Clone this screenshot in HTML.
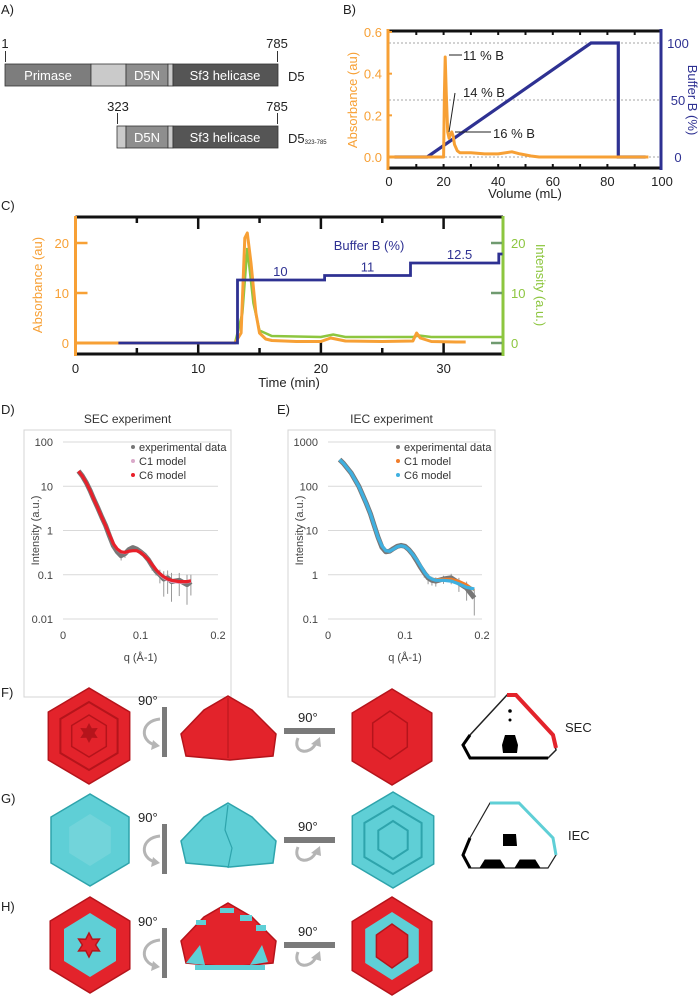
<!DOCTYPE html>
<html><head><meta charset="utf-8">
<style>
html,body{margin:0;padding:0;background:#fff;}
svg{display:block;font-family:"Liberation Sans",Arial,sans-serif;}
</style></head>
<body>
<svg id="fig" width="700" height="997" viewBox="0 0 700 997" xmlns="http://www.w3.org/2000/svg">
<!-- ===== Panel A ===== -->
<g>
  <text x="1" y="14" font-size="13" fill="#222">A)</text>
  <line x1="5.5" y1="51" x2="5.5" y2="62" stroke="#333" stroke-width="1"/>
  <text x="5" y="48" font-size="13" text-anchor="middle" fill="#222">1</text>
  <line x1="277.5" y1="51" x2="277.5" y2="62" stroke="#333"/>
  <text x="277" y="48" font-size="13" text-anchor="middle" fill="#222">785</text>
  <g stroke="#333" stroke-width="0.8">
    <rect x="5" y="64" width="86" height="22" fill="#7d7d7d"/>
    <rect x="91" y="64" width="35" height="22" fill="#cacaca"/>
    <rect x="126" y="64" width="42" height="22" fill="#8e8e8e"/>
    <rect x="168" y="64" width="5" height="22" fill="#cacaca"/>
    <rect x="173" y="64" width="105" height="22" fill="#555"/>
  </g>
  <text x="48" y="80" font-size="13" text-anchor="middle" fill="#fff">Primase</text>
  <text x="147" y="80" font-size="13" text-anchor="middle" fill="#fff">D5N</text>
  <text x="225" y="80" font-size="13" text-anchor="middle" fill="#fff">Sf3 helicase</text>
  <text x="288" y="81" font-size="13" fill="#222">D5</text>

  <line x1="117.5" y1="113" x2="117.5" y2="124" stroke="#333"/>
  <text x="118" y="111" font-size="13" text-anchor="middle" fill="#222">323</text>
  <line x1="277.5" y1="113" x2="277.5" y2="124" stroke="#333"/>
  <text x="277" y="111" font-size="13" text-anchor="middle" fill="#222">785</text>
  <g stroke="#333" stroke-width="0.8">
    <rect x="117" y="126" width="9" height="22" fill="#cacaca"/>
    <rect x="126" y="126" width="42" height="22" fill="#8e8e8e"/>
    <rect x="168" y="126" width="5" height="22" fill="#cacaca"/>
    <rect x="173" y="126" width="105" height="22" fill="#555"/>
  </g>
  <text x="147" y="142" font-size="13" text-anchor="middle" fill="#fff">D5N</text>
  <text x="225" y="142" font-size="13" text-anchor="middle" fill="#fff">Sf3 helicase</text>
  <text x="288" y="143" font-size="13" fill="#222">D5<tspan font-size="6" dy="1">323-785</tspan></text>
</g>

<!-- ===== Panel B ===== -->
<g id="panelB">
  <text x="343" y="14" font-size="13" fill="#222">B)</text>
</g>
<!-- ===== Panel C ===== -->
<g id="panelC">
  <text x="1" y="210" font-size="13" fill="#222">C)</text>
</g>
<!-- ===== Panel D / E ===== -->
<g id="panelD">
  <text x="1" y="414" font-size="13" fill="#222">D)</text>
</g>
<g id="panelE">
  <text x="277" y="414" font-size="13" fill="#222">E)</text>
</g>

<!-- ===== Panels F-H ===== -->
<g id="panelFGH">
  <text x="1" y="697" font-size="13" fill="#222">F)</text>
  <text x="1" y="803" font-size="13" fill="#222">G)</text>
  <text x="1" y="911" font-size="13" fill="#222">H)</text>
  <text x="565" y="732" font-size="13" fill="#222">SEC</text>
  <text x="568" y="840" font-size="13" fill="#222">IEC</text>
</g>

<script>
const NS='http://www.w3.org/2000/svg';
function mk(parent,tag,attrs,txt){const e=document.createElementNS(NS,tag);for(const k in attrs)e.setAttribute(k,attrs[k]);if(txt!==undefined)e.textContent=txt;parent.appendChild(e);return e;}
function pathFrom(xs,ys,fx,fy){return xs.map((v,i)=>(i?'L':'M')+fx(v).toFixed(1)+','+fy(ys[i]).toFixed(1)).join(' ');}

// ---------- Panel B data ----------
const volB=[0,5,10,15,20,20.3,20.6,21,21.5,22,22.5,23,23.5,24,25,26,30,35,40,45,48,52,55,60,70,80,90,95];
const absB=[0,0,0,0,0,0.3,0.48,0.3,0.12,0.09,0.11,0.12,0.1,0.06,0.03,0.02,0.02,0.015,0.015,0.025,0.015,0.005,0,0,0,0,0,0];
const volBuf=[2,14,74,84,84,94];
const bufB=[0,0,100,100,0,0];
const bXTicks=[0,20,40,60,80,100];
const bLeftTicks=[0,0.2,0.4,0.6];
const bRightTicks=[0,50,100];

(function(){
  const g=document.getElementById('panelB');
  const fx=v=>389+v*2.73, fyA=v=>157-v*208.3, fyB=v=>157-v*1.14;
  const ORANGE='#f7a035', BLUE='#2e3192';
  bRightTicks.forEach(t=>{const l=mk(g,'line',{x1:389,x2:662,y1:fyB(t),y2:fyB(t),stroke:'#888','stroke-width':0.7,'stroke-dasharray':'2,2'});
    
    });
  const ax=mk(g,'path',{d:'M387,31 H662 M387,168 H662',stroke:'#111','stroke-width':3,fill:'none'});
  
  
  [10,20,30,40,50,60,70,80,90].forEach(t=>{mk(g,'line',{x1:fx(t),x2:fx(t),y1:31,y2:35,stroke:'#111','stroke-width':2});mk(g,'line',{x1:fx(t),x2:fx(t),y1:164,y2:168,stroke:'#111','stroke-width':2});});
  const la=mk(g,'line',{x1:388,x2:388,y1:29,y2:170,stroke:ORANGE,'stroke-width':3});
  
  
  const ra=mk(g,'line',{x1:661,x2:661,y1:29,y2:170,stroke:BLUE,'stroke-width':3});
  
  
  bLeftTicks.forEach(t=>{const e=mk(g,'text',{x:382,y:fyA(t)+5,'font-size':13,'text-anchor':'end',fill:ORANGE},t.toFixed(1));
    
    
    mk(g,'line',{x1:388,x2:392,y1:fyA(t),y2:fyA(t),stroke:ORANGE,'stroke-width':2});});
  bRightTicks.forEach(t=>{const e=mk(g,'text',{x:678,y:fyB(t)+5,'font-size':13,'text-anchor':'middle',fill:BLUE},String(t));
    
    });
  bXTicks.forEach(t=>{const e=mk(g,'text',{x:fx(t),y:186,'font-size':13,'text-anchor':'middle',fill:'#222'},String(t));
    
    });
  let e=mk(g,'text',{x:525,y:198,'font-size':13,'text-anchor':'middle',fill:'#222'},'Volume (mL)');
  
  
  e=mk(g,'text',{x:0,y:0,'font-size':13,'text-anchor':'middle',fill:ORANGE,transform:'translate(357,100) rotate(-90)'},'Absorbance (au)');
  
  
  e=mk(g,'text',{x:0,y:0,'font-size':13,'text-anchor':'middle',fill:BLUE,transform:'translate(688,100) rotate(90)'},'Buffer B (%)');
  
  
  e=mk(g,'path',{d:pathFrom(volBuf,bufB,fx,fyB),stroke:BLUE,'stroke-width':3.2,fill:'none'});
  
  
  e=mk(g,'path',{d:pathFrom(volB,absB,fx,fyA),stroke:ORANGE,'stroke-width':3,fill:'none','stroke-linejoin':'round'});
  
  
  mk(g,'path',{d:'M449,55 H462 M455,93 L449,132 M455,132 H491',stroke:'#222','stroke-width':1,fill:'none'});
  [['11 % B',463,60],['14 % B',463,97],['16 % B',493,138]].forEach(a=>{const t=mk(g,'text',{x:a[1],y:a[2],'font-size':13,fill:'#222'},a[0]);
    
    });
})();

// ---------- Panel C data ----------
const tC=[0,3,5,10,13,13.5,13.8,14,14.3,14.7,15,15.5,16,18,20,20.8,21.2,22,25,27.5,27.8,28.1,29,31,31.8];
const absC=[0,0,0,0,0,2,21,22,16,6,2,0.8,0.5,0.3,0.3,1,0.8,0.4,0.3,0.4,2,1,0.3,0.2,0.2];
const tG=[0,5,13,13.6,14,14.5,15,16,20,21,22,27.5,28,29,34.8];
const intG=[0,0,0,6,19,8,2.5,1.4,1.2,1.7,1.2,1.2,1.5,1.2,1.2];
const tBuf=[3.5,13.2,13.2,20.3,20.3,27.3,27.3,34.5,34.5,34.8];
const bufC=[0,0,12.6,12.6,13.5,13.5,16,16,17.8,17.8];
const cXTicks=[0,10,20,30];
const cYTicks=[0,10,20];
const bufLabels=['10','11','12.5'];

(function(){
  const g=document.getElementById('panelC');
  const fx=v=>75.5+v*12.27, fy=v=>343-v*5;
  const X0=75.5, X1=503;
  const ORANGE='#f7a035', GREEN='#8dc63f', BLUE='#2e3192';
  let e=mk(g,'path',{d:`M${X0},217 H${X1} M${X0},354 H${X1}`,stroke:'#111','stroke-width':3,fill:'none'});
  
  
  [5,10,15,20,25,30].forEach(t=>{const L=t%10===0?12:6;mk(g,'line',{x1:fx(t),x2:fx(t),y1:217,y2:217+L,stroke:'#111','stroke-width':2.5});mk(g,'line',{x1:fx(t),x2:fx(t),y1:354-L,y2:354,stroke:'#111','stroke-width':2.5});});
  e=mk(g,'line',{x1:X0,x2:X0,y1:216,y2:356,stroke:ORANGE,'stroke-width':3});
  
  
  e=mk(g,'line',{x1:X1,x2:X1,y1:216,y2:356,stroke:GREEN,'stroke-width':3});
  
  
  cYTicks.forEach(t=>{
    if(t>0)mk(g,'line',{x1:X0,x2:X0+12,y1:fy(t),y2:fy(t),stroke:ORANGE,'stroke-width':2.5});
    mk(g,'line',{x1:X1-12,x2:X1-1,y1:fy(t),y2:fy(t),stroke:'#6f9a6f','stroke-width':2.5});
    let a=mk(g,'text',{x:69,y:fy(t)+5,'font-size':13,'text-anchor':'end',fill:ORANGE},String(t));
    
    
    a=mk(g,'text',{x:511,y:fy(t)+5,'font-size':13,fill:GREEN},String(t));
    
    
  });
  cXTicks.forEach(t=>{const a=mk(g,'text',{x:fx(t),y:373,'font-size':13,'text-anchor':'middle',fill:'#222'},String(t));
    
    });
  e=mk(g,'text',{x:289,y:387,'font-size':13,'text-anchor':'middle',fill:'#222'},'Time (min)');
  
  
  e=mk(g,'text',{x:0,y:0,'font-size':13,'text-anchor':'middle',fill:ORANGE,transform:'translate(42,285) rotate(-90)'},'Absorbance (au)');
  
  
  e=mk(g,'text',{x:0,y:0,'font-size':13,'text-anchor':'middle',fill:GREEN,transform:'translate(536,285) rotate(90)'},'Intensity (a.u.)');
  
  
  e=mk(g,'path',{d:pathFrom(tG,intG,fx,fy),stroke:GREEN,'stroke-width':2.5,fill:'none'});
  
  
  e=mk(g,'path',{d:pathFrom(tC,absC,fx,fy),stroke:ORANGE,'stroke-width':3,fill:'none','stroke-linejoin':'round'});
  
  
  e=mk(g,'path',{d:pathFrom(tBuf,bufC,fx,fy),stroke:BLUE,'stroke-width':2.8,fill:'none'});
  
  
  e=mk(g,'text',{x:369,y:250,'font-size':13,'text-anchor':'middle',fill:BLUE},'Buffer B (%)');
  
  
  [[16.7,bufC[2]],[23.8,bufC[4]],[31.3,bufC[6]]].forEach((p,i)=>{const a=mk(g,'text',{x:fx(p[0]),y:fy(p[1])-4,'font-size':13,'text-anchor':'middle',fill:BLUE},bufLabels[i]);
    
    });
})();

// ---------- Panel D data ----------
const qD=[0.02,0.025,0.03,0.035,0.04,0.045,0.05,0.055,0.06,0.065,0.07,0.075,0.08,0.085,0.09,0.095,0.1,0.105,0.11,0.115,0.12,0.125,0.13,0.135,0.14,0.15,0.16,0.165];
const expD=[22,17,12,8,5,3.2,2,1.3,0.75,0.45,0.33,0.27,0.3,0.37,0.41,0.38,0.33,0.28,0.22,0.16,0.12,0.1,0.08,0.085,0.07,0.075,0.06,0.07];
const c1D=[22,17,12,8,5,3.2,2,1.3,0.8,0.5,0.37,0.32,0.31,0.33,0.35,0.35,0.33,0.28,0.22,0.17,0.13,0.1,0.085,0.076,0.07,0.066,0.068,0.07];
const c6D=[22,17,12,8,5,3.2,2,1.3,0.8,0.5,0.38,0.33,0.32,0.34,0.35,0.35,0.32,0.27,0.22,0.17,0.13,0.105,0.09,0.08,0.075,0.07,0.07,0.073];
const errD=[0,0,0,0,0,0,0,0,0,0,0,0.05,0.05,0.05,0.05,0.04,0.04,0.03,0.03,0.03,0.02,0.03,0.04,0.04,0.04,0.035,0.04,0.03];
const dYTicks=[0.01,0.1,1,10,100];
// ---------- Panel E data ----------
const qE=[0.015,0.02,0.03,0.04,0.05,0.055,0.06,0.065,0.07,0.075,0.08,0.085,0.09,0.095,0.1,0.105,0.11,0.115,0.12,0.125,0.13,0.135,0.14,0.15,0.16,0.17,0.18,0.19];
const expE=[400,330,200,100,40,24,13,7,4.2,3.3,3.4,3.9,4.4,4.6,4.4,3.7,2.9,2.1,1.5,1.1,0.85,0.75,0.72,0.8,0.85,0.65,0.5,0.3];
const c1E=[400,330,200,100,40,24,13,7,4.5,3.5,3.4,3.8,4.3,4.5,4.3,3.7,2.9,2.2,1.6,1.15,0.92,0.82,0.78,0.8,0.8,0.72,0.6,0.45];
const c6E=[400,330,200,100,40,24,13,7,4.5,3.5,3.4,3.8,4.3,4.5,4.3,3.7,2.9,2.2,1.6,1.15,0.9,0.8,0.75,0.75,0.72,0.62,0.52,0.48];
const errE=[0,0,0,0,0,0,0,0,0,0,0,0,0,0,0,0,0,0,0.2,0.2,0.2,0.15,0.15,0.15,0.2,0.2,0.2,0.15];
const eYTicks=[0.1,1,10,100,1000];
const qTicks=[0,0.1,0.2];

function saxsPanel(gid,box,plot,yTicks,q,exp,err,c1,c6,c1col,c6col,title,prefix){
  const g=document.getElementById(gid);
  const lmin=Math.log10(yTicks[0]),lmax=Math.log10(yTicks[yTicks.length-1]);
  const fx=v=>plot.x0+v/0.2*(plot.x1-plot.x0);
  const fy=v=>plot.yb-(Math.log10(v)-lmin)/(lmax-lmin)*(plot.yb-plot.yt);
  let e=mk(g,'rect',{x:box.x,y:box.y,width:box.w,height:box.h,fill:'#fff',stroke:'#d4d4d4','stroke-width':1});
  
  
  e=mk(g,'text',{x:box.x+box.w/2,y:box.y-7,'font-size':12,'text-anchor':'middle',fill:'#333'},title);
  
  
  yTicks.forEach(t=>{
    const l=mk(g,'line',{x1:plot.x0,x2:plot.x1,y1:fy(t),y2:fy(t),stroke:'#d9d9d9','stroke-width':1});
    
    
    const a=mk(g,'text',{x:plot.x0-10,y:fy(t)+4,'font-size':11,'text-anchor':'end',fill:'#444'},String(t));
    
    
  });
  qTicks.forEach(t=>{const a=mk(g,'text',{x:fx(t),y:plot.yb+20,'font-size':11,'text-anchor':'middle',fill:'#444'},String(t));
    
    });
  e=mk(g,'text',{x:(plot.x0+plot.x1)/2,y:plot.yb+42,'font-size':11,'text-anchor':'middle',fill:'#444'},'q (Å-1)');
  
  
  e=mk(g,'text',{x:0,y:0,'font-size':11,'text-anchor':'middle',fill:'#444',transform:`translate(${box.x+15},${(plot.yt+plot.yb)/2}) rotate(-90)`},'Intensity (a.u.)');
  
  
  q.forEach((v,i)=>{if(err[i]>0){const lo=Math.max(exp[i]-err[i]*1.2,exp[i]*0.35);const b=mk(g,'line',{x1:fx(v),x2:fx(v),y1:fy(exp[i]+err[i]),y2:fy(lo),stroke:'#999','stroke-width':1});
    
    }});
  e=mk(g,'path',{d:pathFrom(q,exp,fx,fy),stroke:'#777','stroke-width':5,fill:'none','stroke-linejoin':'round'});
  
  
  e=mk(g,'path',{d:pathFrom(q,c1,fx,fy),stroke:c1col,'stroke-width':2.5,fill:'none'});
  
  
  e=mk(g,'path',{d:pathFrom(q,c6,fx,fy),stroke:c6col,'stroke-width':3.2,fill:'none'});
  
  
  const lx=plot.x0+70, ly=plot.yt+9;
  [['experimental data','#777'],['C1 model',c1col],['C6 model',c6col]].forEach((it,i)=>{
    const c=mk(g,'circle',{cx:lx,cy:ly+i*14-4,r:2,fill:it[1]});
    
    
    const t=mk(g,'text',{x:lx+6,y:ly+i*14,'font-size':11,fill:'#333'},it[0]);
    
    
  });
}
saxsPanel('panelD',{x:24,y:430,w:207,h:267},{x0:63,x1:218,yt:442,yb:619},dYTicks,qD,expD,errD,c1D,c6D,'#d9a9c9','#e8202a','SEC experiment','d');
saxsPanel('panelE',{x:288,y:430,w:207,h:267},{x0:328,x1:482,yt:442,yb:619},eYTicks,qE,expE,errE,c1E,c6E,'#f07c2a','#3fb0e0','IEC experiment','e');

// ---------- Panels F-H (models) ----------
(function(){
  const g=document.getElementById('panelFGH');
  const RED='#e3232b',RED2='#b5141b',CY='#5fcfd6',CY2='#2ea4ac';
  function hex(cx,cy,rx,ry,rot){let p=[];for(let i=0;i<6;i++){const a=(rot||0)+Math.PI/2+i*Math.PI/3;p.push((cx+rx*Math.cos(a)).toFixed(1)+','+(cy-ry*Math.sin(a)).toFixed(1));}return p.join(' ');}
  function star(cx,cy,r){let p=[];for(let i=0;i<12;i++){const a=i*Math.PI/6+Math.PI/2;const rr=i%2?r*0.55:r;p.push((cx+rr*Math.cos(a)).toFixed(1)+','+(cy-rr*Math.sin(a)).toFixed(1));}return p.join(' ');}
  function P(pts,fill,stroke,name,sw){const e=mk(g,'polygon',{points:pts,fill:fill,stroke:stroke||'none','stroke-width':sw||1.5});return e;}
  function rotV(y){
    let e=mk(g,'rect',{x:162,y:y,width:5,height:50,fill:'#7a7a7a'});
    e=mk(g,'path',{d:`M160,${y+12} C140,${y+14} 140,${y+34} 155,${y+38}`,stroke:'#b5b5b5','stroke-width':3,fill:'none'});
    mk(g,'polygon',{points:`${153},${y+33} ${160},${y+39} ${151},${y+43}`,fill:'#b5b5b5'});
    e=mk(g,'text',{x:138,y:y-2,'font-size':13,fill:'#222'},'90°');
  }
  function rotH(y){
    let e=mk(g,'rect',{x:284,y:y-3,width:51,height:6,fill:'#7a7a7a'});
    e=mk(g,'path',{d:`M298,${y+7} C292,${y+22} 310,${y+25} 316,${y+12}`,stroke:'#b5b5b5','stroke-width':3,fill:'none'});
    mk(g,'polygon',{points:`311,${y+13} 320,${y+6} 321,${y+16}`,fill:'#b5b5b5'});
    e=mk(g,'text',{x:298,y:y-9,'font-size':13,fill:'#222'},'90°');
  }
  function dome(y0,fill,dark,name){
    P(`${228},${y0} ${252},${y0+14} ${276},${y0+38} ${273},${y0+60} ${230},${y0+64} ${186},${y0+60} ${181},${y0+38} ${204},${y0+14}`,fill,dark,name);
  }
  P(hex(89,736,47,48),RED,RED2,'sec-model-top-view');
  P(hex(89,736,33,34),'none',RED2,'sec-model-ring',2);
  P(hex(89,736,20,21),'none',RED2,'sec-model-ring',1.5);
  P(star(89,733,10),RED2,'none','sec-model-center-star');
  rotV(707);dome(696,RED,RED2,'sec-model-side-view');
  mk(g,'line',{x1:228,y1:698,x2:228,y2:758,stroke:RED2,'stroke-width':1});
  rotH(731);
  P(hex(392,737,46,48),RED,RED2,'sec-model-bottom-view');
  P(hex(390,735,20,24),'none',RED2,'sec-model-inner-hexagon',1.5);
  P('507,695 516,695 553,735 556,750 548,758 470,758 463,745 470,735',"#fff",'#222','sec-model-cross-section',1.5);
  mk(g,'path',{d:'M507,695 L516,695 L553,735 L556,748',stroke:RED,'stroke-width':4,fill:'none'});
  mk(g,'path',{d:'M470,735 L463,745 L470,758 L548,758',stroke:'#000','stroke-width':3,fill:'none'});
  P('505,735 515,735 518,745 517,753 503,753 502,745',"#000",'none','sec-model-core');
  mk(g,'circle',{cx:510,cy:711,r:1.8,fill:'#000'});mk(g,'circle',{cx:510,cy:720,r:1.5,fill:'#000'});
  P(hex(90,840,45,46),CY,CY2,'iec-model-top-view');
  P(hex(90,840,24,26),'#72d4da','none','iec-model-center');
  rotV(824);dome(803,CY,CY2,'iec-model-side-view');
  mk(g,'path',{d:'M228,805 L225,830 L232,848 L228,868',stroke:CY2,'stroke-width':1.2,fill:'none'});
  rotH(840);
  P(hex(393,840,47,48),CY,CY2,'iec-model-bottom-view');
  P(hex(393,840,33,34),'none',CY2,'iec-model-ring',2);
  P(hex(393,840,17,19),'none',CY2,'iec-model-inner-hexagon',2);
  P('490,803 519,803 553,838 556,855 548,868 470,868 463,855 470,838',"#fff",'#222','iec-model-cross-section',1.2);
  mk(g,'path',{d:'M490,803 L519,803 L553,838 L556,855',stroke:CY,'stroke-width':3,fill:'none'});
  mk(g,'path',{d:'M470,838 L463,855 L470,868',stroke:'#000','stroke-width':3,fill:'none'});
  P('503,834 516,834 517,846 503,846',"#000",'none','iec-model-core');
  mk(g,'path',{d:'M480,868 L485,860 L500,860 L505,868 M515,868 L520,860 L535,860 L540,868',fill:'#000',stroke:'#000'});
  P(hex(90,945,46,48),RED,RED2,'combined-model-top-view');
  P(hex(90,945,30,32),CY,'none','combined-model-cyan-ring');
  P(star(89,945,12),RED,RED2,'combined-model-center-star');
  rotV(928);dome(903,RED,RED2,'combined-model-side-view');
  [[220,908,14,5],[240,915,12,6],[196,920,10,5],[256,925,10,6]].forEach(r=>{const e=mk(g,'rect',{x:r[0],y:r[1],width:r[2],height:r[3],fill:CY});});
  mk(g,'polygon',{points:'186,963 200,945 205,965',fill:CY});mk(g,'polygon',{points:'250,965 262,945 268,962',fill:CY});mk(g,'rect',{x:195,y:965,width:70,height:5,fill:CY});
  rotH(945);
  P(hex(392,946,46,49),RED,RED2,'combined-model-bottom-view');
  P(hex(392,946,31,34),CY,'none','combined-model-cyan-ring');
  P(hex(392,946,18,22),RED,RED2,'combined-model-inner-hexagon');
})();
</script>
</svg>
</body></html>
